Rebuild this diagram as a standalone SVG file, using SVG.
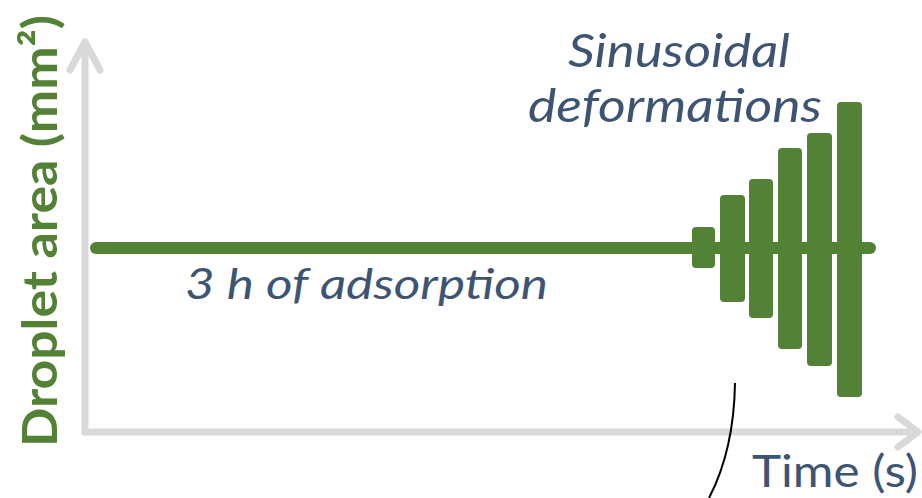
<svg xmlns="http://www.w3.org/2000/svg" width="922" height="498" viewBox="0 0 922 498">
<style>
.axis{stroke:#d9d9d9;stroke-width:7;fill:none;stroke-linecap:round;stroke-linejoin:round}
.bar{fill:#538135}
.lbl{font-family:Lato,"Open Sans",sans-serif;fill:#3d5573}
.it{font-style:italic}
.ylab{font-family:Lato,"Open Sans",sans-serif;font-weight:bold;fill:#538135}
</style>
<g id="axes">
<path class="axis" d="M85,432 V42"/>
<path class="axis" d="M70,70 L85,42 L100,70"/>
<path class="axis" d="M85,432 H917"/>
<path class="axis" d="M898,417 L918,432 L898,447"/>
</g>
<g id="signal">
<rect class="bar" x="90" y="242" width="786" height="12" rx="6"/>
<rect class="bar" x="692" y="227" width="23" height="41" rx="4"/>
<rect class="bar" x="720" y="195" width="25" height="107" rx="4"/>
<rect class="bar" x="749" y="179" width="24" height="139" rx="4"/>
<rect class="bar" x="778" y="148" width="24" height="201" rx="4"/>
<rect class="bar" x="807" y="133" width="25" height="233" rx="4"/>
<rect class="bar" x="837" y="102" width="25" height="295" rx="4"/>
</g>
<g id="connectors">
<path d="M735,383 Q734,450 709,498" fill="none" stroke="#000" stroke-width="2"/>
</g>
<g id="labels">
<text class="ylab" transform="translate(57,447) rotate(-90)" font-size="48" textLength="432" lengthAdjust="spacingAndGlyphs">Droplet area (mm²)</text>
<text class="lbl it" x="185" y="299" font-size="42" textLength="363" lengthAdjust="spacingAndGlyphs">3 h of adsorption</text>
<text class="lbl it" x="568" y="67" font-size="46" textLength="222" lengthAdjust="spacingAndGlyphs">Sinusoidal</text>
<text class="lbl it" x="528" y="122" font-size="46" textLength="294" lengthAdjust="spacingAndGlyphs">deformations</text>
<text class="lbl" x="752" y="487" font-size="44" textLength="166" lengthAdjust="spacingAndGlyphs">Time (s)</text>
</g>
</svg>
